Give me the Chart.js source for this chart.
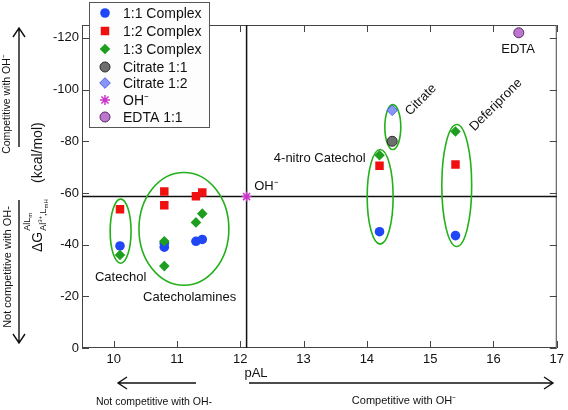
<!DOCTYPE html>
<html>
<head>
<meta charset="utf-8">
<script src="https://cdn.jsdelivr.net/npm/chart.js@4.4.0/dist/chart.umd.min.js"></script>
<style>
  body { margin: 0; background: #fff; }
</style>
</head>
<body>
<canvas id="gChart" width="568" height="410"></canvas>
<script>
// pAL (x) and free energy in kcal/mol (y)
var c11X = [10.1, 10.8, 10.8, 11.3, 11.4, 14.2, 15.4];
var c11Y = [-39.5, -39, -40.5, -41.3, -42, -45, -43.5];
var c12X = [10.1, 10.8, 10.8, 11.3, 11.4, 14.2, 15.4];
var c12Y = [-53.7, -55.2, -60.6, -58.7, -60.2, -70.5, -71];
var c13X = [10.1, 10.8, 10.8, 11.3, 11.4, 14.2, 15.4];
var c13Y = [-36, -41.3, -31.7, -48.6, -52, -74.6, -83.8];
var citrate11 = [14.4, -80];
var citrate12 = [14.4, -92];
var ohPoint = [12.1, -58.6];
var edta11 = [16.4, -122];

var xTicks = [10, 11, 12, 13, 14, 15, 16, 17];
var yTicks = [-120, -100, -80, -60, -40, -20, 0];

// ligand groups circled in the figure (data units)
var groups = [
    { cx: 10.11, cy: -45.2, rx: 0.165, ry: 12.4 },
    { cx: 11.11, cy: -46.1, rx: 0.71, ry: 21.8 },
    { cx: 14.41, cy: -85.5, rx: 0.126, ry: 8.7 },
    { cx: 14.21, cy: -58.5, rx: 0.205, ry: 18.3 },
    { cx: 15.42, cy: -62.9, rx: 0.236, ry: 23.6 }
];
var labels = [
    { text: 'Catechol', x: 10.11, y: -27.4, align: 'center', rot: 0 },
    { text: 'Catecholamines', x: 11.2, y: -19.7, align: 'center', rot: 0 },
    { text: '4-nitro Catechol', x: 13.98, y: -73.3, align: 'right', rot: 0 },
    { text: 'EDTA', x: 16.39, y: -115.7, align: 'center', rot: 0 },
    { text: 'Citrate', x: 14.68, y: -89.8, align: 'left', rot: -45, base: 'alphabetic' },
    { text: 'Deferiprone', x: 15.7, y: -83.8, align: 'left', rot: -45, base: 'alphabetic' },
    { text: 'OH\u207B', x: 12.22, y: -62.5, align: 'left', rot: 0 }
];

function pts(xs, ys) {
    var out = [];
    for (var i = 0; i < xs.length; i++) out.push({ x: xs[i], y: ys[i] });
    return out;
}

var FONT = '"Liberation Sans", Arial, Helvetica, sans-serif';

function arrow(ctx, x1, y1, x2, y2) {
    var a = Math.atan2(y2 - y1, x2 - x1);
    ctx.beginPath();
    ctx.moveTo(x1, y1);
    ctx.lineTo(x2, y2);
    ctx.moveTo(x2 - 9 * Math.cos(a) + 6 * Math.sin(a), y2 - 9 * Math.sin(a) - 6 * Math.cos(a));
    ctx.lineTo(x2, y2);
    ctx.lineTo(x2 - 9 * Math.cos(a) - 6 * Math.sin(a), y2 - 9 * Math.sin(a) + 6 * Math.cos(a));
    ctx.stroke();
}

var decorations = {
    id: 'decorations',
    beforeDatasetsDraw: function (chart) {
        var ctx = chart.ctx, a = chart.chartArea;
        var xs = chart.scales.x, ys = chart.scales.y;
        ctx.save();
        // frame + inward ticks
        ctx.strokeStyle = '#444';
        ctx.lineWidth = 1;
        ctx.strokeRect(a.left + 0.5, a.top + 0.5, a.right - a.left - 1, a.bottom - a.top - 1);
        ctx.beginPath();
        xTicks.forEach(function (t) {
            var px = Math.round(xs.getPixelForValue(t)) + 0.5;
            ctx.moveTo(px, a.bottom); ctx.lineTo(px, a.bottom - 7);
            ctx.moveTo(px, a.top); ctx.lineTo(px, a.top + 7);
        });
        yTicks.forEach(function (t) {
            var py = Math.round(ys.getPixelForValue(t)) + 0.5;
            ctx.moveTo(a.left, py); ctx.lineTo(a.left + 7, py);
            ctx.moveTo(a.right, py); ctx.lineTo(a.right - 7, py);
        });
        ctx.stroke();

        // OH- reference lines
        ctx.strokeStyle = '#111';
        ctx.lineWidth = 1.5;
        ctx.beginPath();
        var ox = xs.getPixelForValue(ohPoint[0]), oy = ys.getPixelForValue(ohPoint[1]);
        ctx.moveTo(ox, a.top); ctx.lineTo(ox, a.bottom);
        ctx.moveTo(a.left, oy); ctx.lineTo(a.right, oy);
        ctx.stroke();

        // green ellipses
        ctx.strokeStyle = '#23b01a';
        ctx.lineWidth = 1.6;
        groups.forEach(function (g) {
            var cx = xs.getPixelForValue(g.cx), cy = ys.getPixelForValue(g.cy);
            var rx = Math.abs(xs.getPixelForValue(g.cx + g.rx) - cx);
            var ry = Math.abs(ys.getPixelForValue(g.cy + g.ry) - cy);
            ctx.beginPath();
            ctx.ellipse(cx, cy, rx, ry, 0, 0, Math.PI * 2);
            ctx.stroke();
        });

        // text labels
        ctx.fillStyle = '#111';
        ctx.font = '13px ' + FONT;
        labels.forEach(function (l) {
            ctx.save();
            ctx.translate(xs.getPixelForValue(l.x), ys.getPixelForValue(l.y));
            ctx.rotate(l.rot * Math.PI / 180);
            ctx.textAlign = l.align;
            ctx.textBaseline = l.base || 'middle';
            ctx.fillText(l.text, 0, 0);
            ctx.restore();
        });
        ctx.restore();
    },
    afterDraw: function (chart) {
        var ctx = chart.ctx;
        ctx.save();
        ctx.fillStyle = '#111';
        ctx.strokeStyle = '#111';
        ctx.lineWidth = 1.4;

        // x title
        ctx.font = '13px ' + FONT;
        ctx.textAlign = 'center';
        ctx.textBaseline = 'middle';
        ctx.fillText('pAL', 256, 373);

        // bottom arrows and notes
        arrow(ctx, 196, 383, 118, 383);
        arrow(ctx, 249, 383, 553, 383);
        ctx.font = '10.5px ' + FONT;
        ctx.fillText('Not competitive with OH-', 154, 402);
        ctx.font = '11px ' + FONT;
        ctx.fillText('Competitive with OH\u207B', 404, 401);

        // left arrows and notes
        arrow(ctx, 19, 147, 19, 28);
        arrow(ctx, 19, 200, 19, 343);
        ctx.save();
        ctx.translate(10, 104);
        ctx.rotate(-Math.PI / 2);
        ctx.font = '10.5px ' + FONT;
        ctx.textBaseline = 'alphabetic';
        ctx.fillText('Competitive with OH\u207B', 0, 0);
        ctx.restore();
        ctx.save();
        ctx.translate(11, 267);
        ctx.rotate(-Math.PI / 2);
        ctx.font = '11px ' + FONT;
        ctx.textBaseline = 'alphabetic';
        ctx.fillText('Not competitive with OH-', 0, 0);
        ctx.restore();

        // y title: ΔG^{AlLm}_{Al3+,LmH} (kcal/mol)
        ctx.save();
        ctx.translate(42, 252);
        ctx.rotate(-Math.PI / 2);
        ctx.textAlign = 'left';
        ctx.textBaseline = 'alphabetic';
        ctx.font = '14px ' + FONT;
        ctx.fillText('\u0394G', 0, 0);
        var u = ctx.measureText('\u0394G').width + 1;
        ctx.font = '9px ' + FONT;
        ctx.fillText('AlL', u, -12);
        var su = u + ctx.measureText('AlL').width;
        ctx.font = '6px ' + FONT;
        ctx.fillText('m', su, -10);
        ctx.font = '9px ' + FONT;
        ctx.fillText('Al', u, 4);
        var b = u + ctx.measureText('Al').width;
        ctx.font = '6px ' + FONT;
        ctx.fillText('3+', b, 0);
        b += ctx.measureText('3+').width;
        ctx.font = '9px ' + FONT;
        ctx.fillText(',L', b, 4);
        b += ctx.measureText(',L').width;
        ctx.font = '6px ' + FONT;
        ctx.fillText('mH', b, 6);
        ctx.font = '14px ' + FONT;
        ctx.fillText('(kcal/mol)', 69, 0);
        ctx.restore();

        // legend box
        ctx.fillStyle = '#fdfdfd';
        ctx.strokeStyle = '#555';
        ctx.lineWidth = 1;
        ctx.fillRect(89.5, 2.5, 120, 125);
        ctx.strokeRect(89.5, 2.5, 120, 125);
        var rowY = [13, 31, 49, 67, 83, 100, 117];
        chart.data.datasets.forEach(function (ds, i) {
            var opts = {
                pointStyle: ds.pointStyle,
                radius: ds.pointRadius,
                borderWidth: ds.pointBorderWidth,
                rotation: 0
            };
            ctx.fillStyle = ds.pointBackgroundColor;
            ctx.strokeStyle = ds.pointBorderColor;
            ctx.lineWidth = ds.pointBorderWidth;
            Chart.helpers.drawPoint(ctx, opts, 105, rowY[i]);
            ctx.fillStyle = '#111';
            ctx.font = '14px ' + FONT;
            ctx.textAlign = 'left';
            ctx.textBaseline = 'middle';
            ctx.fillText(ds.label, 123, rowY[i] + 1);
        });
        ctx.restore();
    }
};

function series(label, data, style, fill, border, radius, bw, order) {
    return {
        label: label,
        data: data,
        pointStyle: style,
        pointBackgroundColor: fill,
        pointBorderColor: border,
        pointRadius: radius,
        pointHoverRadius: radius,
        pointBorderWidth: bw,
        backgroundColor: fill,
        borderColor: border,
        order: order
    };
}

var gChart = new Chart(document.getElementById('gChart'), {
    type: 'scatter',
    data: {
        datasets: [
            series('1:1 Complex', pts(c11X, c11Y), 'circle', '#2046f5', '#2046f5', 4.8, 0, 3),
            series('1:2 Complex', pts(c12X, c12Y), 'rect', '#f01010', '#f01010', 6, 0, 2),
            series('1:3 Complex', pts(c13X, c13Y), 'rectRot', '#1e9e1e', '#1e9e1e', 5.3, 0, 1),
            series('Citrate 1:1', [{ x: citrate11[0], y: citrate11[1] }], 'circle', '#6e6e6e', '#2a2a2a', 5, 1, 0),
            series('Citrate 1:2', [{ x: citrate12[0], y: citrate12[1] }], 'rectRot', '#8a96f5', '#4a5ee8', 5.3, 1, 0),
            series('OH\u207B', [{ x: ohPoint[0], y: ohPoint[1] }], 'star', '#cc33cc', '#cc33cc', 5, 1.5, 0),
            series('EDTA 1:1', [{ x: edta11[0], y: edta11[1] }], 'circle', '#bb77cc', '#5a2a6a', 5, 1, 0)
        ]
    },
    options: {
        responsive: false,
        animation: false,
        layout: { padding: { top: 25, right: 9, left: 0, bottom: 0 } },
        plugins: {
            legend: { display: false },
            tooltip: { enabled: false }
        },
        scales: {
            x: {
                type: 'linear',
                min: 9.5,
                max: 17,
                border: { display: false },
                grid: { drawOnChartArea: false, drawTicks: false },
                ticks: {
                    stepSize: 1,
                    includeBounds: false,
                    padding: 4,
                    color: '#111',
                    font: { size: 13, family: FONT },
                    maxRotation: 0
                },
                afterFit: function (s) { s.height = 62; }
            },
            y: {
                type: 'linear',
                min: -125,
                max: 0,
                reverse: true,
                border: { display: false },
                grid: { drawOnChartArea: false, drawTicks: false },
                ticks: {
                    stepSize: 20,
                    includeBounds: false,
                    padding: 3,
                    color: '#111',
                    font: { size: 13, family: FONT },
                    callback: function (v) { return String(v); }
                },
                afterFit: function (s) { s.width = 82; }
            }
        }
    },
    plugins: [decorations]
});
</script>
</body>
</html>
